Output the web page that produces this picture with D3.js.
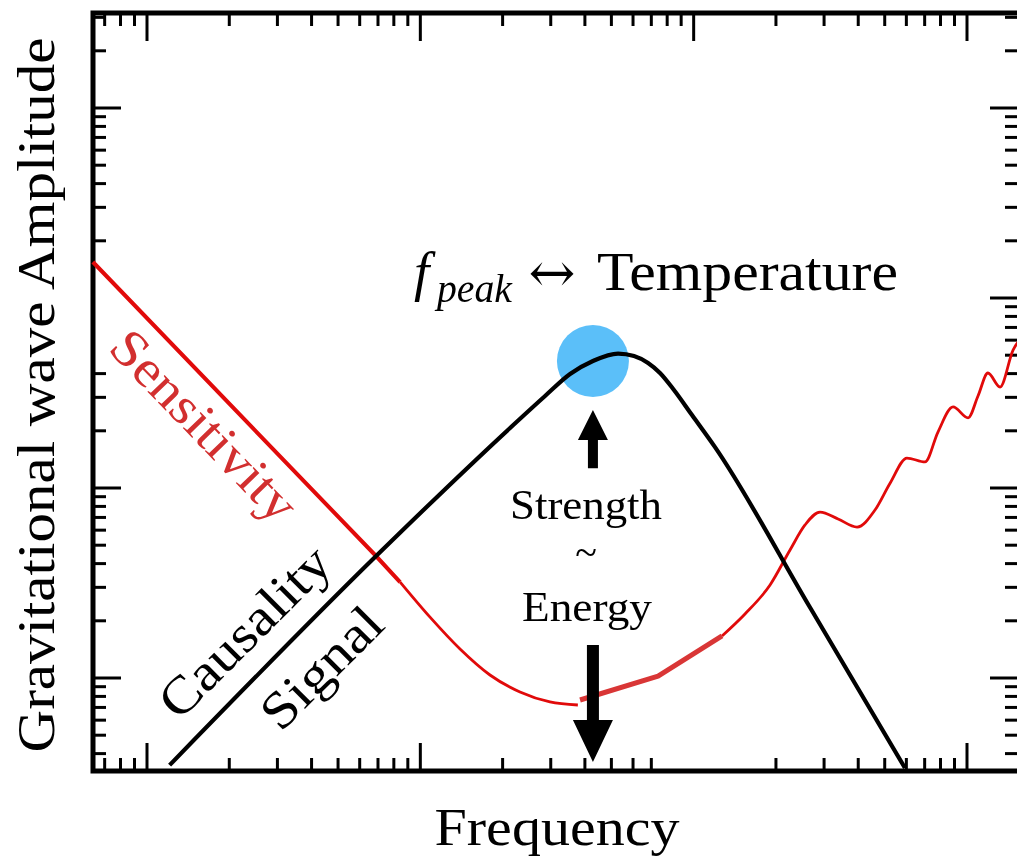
<!DOCTYPE html>
<html>
<head>
<meta charset="utf-8">
<script src="https://cdn.jsdelivr.net/npm/d3@7"></script>
<style>
  html, body { margin: 0; padding: 0; background: #fff; }
  svg { display: block; }
</style>
</head>
<body>
<svg id="chart" width="1017" height="863"></svg>
<script>
// Gravitational-wave signal vs. detector sensitivity, log-log (arbitrary units)

// Signal spectrum: causality rise, thermal peak, fall-off
const signalFreq = [1.21, 6.83, 21.3, 28.6, 35.3, 42.8, 52.9, 60.5, 68.1, 75.3, 84.7, 98.6, 119.7, 266.6, 593];
const signalAmp  = [0.348, 4.33, 20.7, 30.5, 39.8, 46.6, 51.0, 49.5, 45.5, 40.3, 32.8, 24.2, 16.4, 2.35, 0.336];

// Detector sensitivity curve, in four pieces
const sensSlopeFreq  = [0.634, 6.83, 8.43];
const sensSlopeAmp   = [154.7, 4.44, 3.20];
const sensBucketFreq = [8.43, 10.85, 13.97, 17.98, 23.15, 29.8, 37.7];
const sensBucketAmp  = [3.20, 2.09, 1.421, 1.037, 0.844, 0.748, 0.721];
const sensBandFreq   = [38.4, 74.1, 127.0];
const sensBandAmp    = [0.766, 1.024, 1.664];
const sensHighFreq   = [127.0, 154.1, 190.3, 225.2, 255.5, 289.9, 337.5, 396, 460.7, 523, 603, 702, 783, 889, 1009, 1097, 1193, 1321, 1474, 1589];
const sensHighAmp    = [1.664, 2.172, 3.087, 4.72, 6.39, 7.47, 6.87, 6.23, 7.66, 10.6, 14.38, 13.71, 19.7, 26.7, 23.4, 30.5, 40.3, 34.0, 53.2, 62.3];

// Peak marker and strength arrows
const peakFreq = 42.8;
const peakAmp = 46.6;
const upArrowAmp = [12.7, 25.7];     // tail, tip
const downArrowAmp = [1.49, 0.361];  // tail, tip

// Text
const yTitle = "Gravitational wave Amplitude";
const xTitle = "Frequency";

const svg = d3.select("#chart");
const frame = { left: 93, right: 1020, top: 13, bottom: 771 };

const x = d3.scaleLog().domain([1, 1000]).range([147, 967]);
const y = d3.scaleLog().domain([1, 1000]).range([678, 108]);

// log ticks (1..9 per decade) inside the frame
function logTicks(scale, lo, hi) {
  const out = [];
  for (let d = -2; d <= 5; d++) {
    for (let m = 1; m <= 9; m++) {
      const v = m * Math.pow(10, d);
      const p = scale(v);
      if (p > lo + 2 && p < hi - 2) out.push({ v, major: m === 1 });
    }
  }
  return out;
}
const xt = logTicks(x, frame.left, frame.right);
const yt = logTicks(y, frame.top, frame.bottom);

const tickG = svg.append("g").attr("stroke", "#000").attr("stroke-width", 3);
const MAJ = 28, MIN = 13;

// bottom
tickG.selectAll(".tb").data(xt.filter(t => !(t.v > 75 && t.v < 150))).join("line")
  .attr("x1", d => x(d.v)).attr("x2", d => x(d.v))
  .attr("y1", frame.bottom).attr("y2", d => frame.bottom - (d.major ? MAJ : MIN));
// top
tickG.selectAll(".tt").data(xt).join("line")
  .attr("x1", d => x(d.v)).attr("x2", d => x(d.v))
  .attr("y1", frame.top).attr("y2", d => frame.top + (d.major ? MAJ : MIN));
// left
tickG.selectAll(".tl").data(yt.filter(t => !(t.v > 45 && t.v < 150))).join("line")
  .attr("y1", d => y(d.v)).attr("y2", d => y(d.v))
  .attr("x1", frame.left).attr("x2", d => frame.left + (d.major ? MAJ : MIN));
// right
tickG.selectAll(".tr").data(yt).join("line")
  .attr("y1", d => y(d.v)).attr("y2", d => y(d.v))
  .attr("x1", frame.right).attr("x2", d => frame.right - (d.major ? MAJ + 2 : MIN + 2));

// frame
svg.append("rect")
  .attr("x", frame.left).attr("y", frame.top)
  .attr("width", frame.right - frame.left).attr("height", frame.bottom - frame.top)
  .attr("fill", "none").attr("stroke", "#000").attr("stroke-width", 5);

const zip = (a, b) => a.map((v, i) => [v, b[i]]);
const smooth = d3.line().x(d => x(d[0])).y(d => y(d[1])).curve(d3.curveMonotoneX);
const straight = d3.line().x(d => x(d[0])).y(d => y(d[1]));

const curves = svg.append("g").attr("fill", "none").attr("stroke-linejoin", "round");

curves.append("path").attr("d", straight(zip(sensSlopeFreq, sensSlopeAmp)))
  .attr("stroke", "#e10a0a").attr("stroke-width", 4);
curves.append("path").attr("d", smooth(zip(sensBucketFreq, sensBucketAmp)))
  .attr("stroke", "#e10a0a").attr("stroke-width", 2.8);
curves.append("path").attr("d", straight(zip(sensBandFreq, sensBandAmp)))
  .attr("stroke", "#d93636").attr("stroke-width", 5);
curves.append("path").attr("d", smooth(zip(sensHighFreq, sensHighAmp)))
  .attr("stroke", "#e10a0a").attr("stroke-width", 2.8);

curves.append("path").attr("d", smooth(zip(signalFreq, signalAmp)))
  .attr("stroke", "#000").attr("stroke-width", 4.2);

// peak marker
svg.append("circle")
  .attr("cx", x(peakFreq)).attr("cy", y(peakAmp)).attr("r", 36)
  .attr("fill", "#5bbff9")
  .style("mix-blend-mode", "multiply");

// vertical arrows
function arrow(f, tail, tip, headLen, shaftHalf, headHalf) {
  const cx = x(f), y0 = y(tail), y1 = y(tip);
  const dir = Math.sign(y1 - y0);
  const yb = y1 - dir * headLen;
  const pts = [
    [cx - shaftHalf, y0], [cx + shaftHalf, y0], [cx + shaftHalf, yb],
    [cx + headHalf, yb], [cx, y1], [cx - headHalf, yb], [cx - shaftHalf, yb]
  ];
  svg.append("path").attr("d", "M" + pts.map(p => p.join(",")).join("L") + "Z").attr("fill", "#000");
}
arrow(peakFreq, upArrowAmp[0], upArrowAmp[1], 30, 5, 15);
arrow(peakFreq, downArrowAmp[0], downArrowAmp[1], 42, 6, 20);

// labels
const serif = "'Liberation Serif', 'Times New Roman', 'DejaVu Serif', serif";
function label(txt, tx, ty, rot, size, len, color, anchor) {
  const t = svg.append("text")
    .attr("transform", `translate(${tx},${ty}) rotate(${rot})`)
    .attr("text-anchor", anchor || "middle")
    .attr("font-family", serif).attr("font-size", size)
    .attr("fill", color || "#000")
    .text(txt);
  if (len) t.attr("textLength", len).attr("lengthAdjust", "spacingAndGlyphs");
  return t;
}

label(yTitle, 54, 395, -90, 53, 715);
label(xTitle, 557, 845, 0, 53, 245);

label("Sensitivity", 205, 425, 46, 52, 245, "#d22f2f").attr("dy", "0.35em");
label("Causality", 244, 631, -45, 52, 220).attr("dy", "0.35em");
label("Signal", 321, 667, -45, 52, 150).attr("dy", "0.35em");

label("Strength", 586, 519, 0, 42, 152);
label("~", 586, 566, 0, 40);
label("Energy", 587, 621, 0, 42, 130);

// f_peak <-> Temperature
label("f", 414, 290, 0, 55, null, "#000", "start").attr("font-style", "italic");
label("peak", 437, 302, 0, 40, 75, "#000", "start").attr("font-style", "italic");
label("\u2194", 552, 292, 0, 56, 47, "#000", "middle").attr("font-family", "'DejaVu Serif', serif");
label("Temperature", 597, 290, 0, 55, 301, "#000", "start");
</script>
</body>
</html>
